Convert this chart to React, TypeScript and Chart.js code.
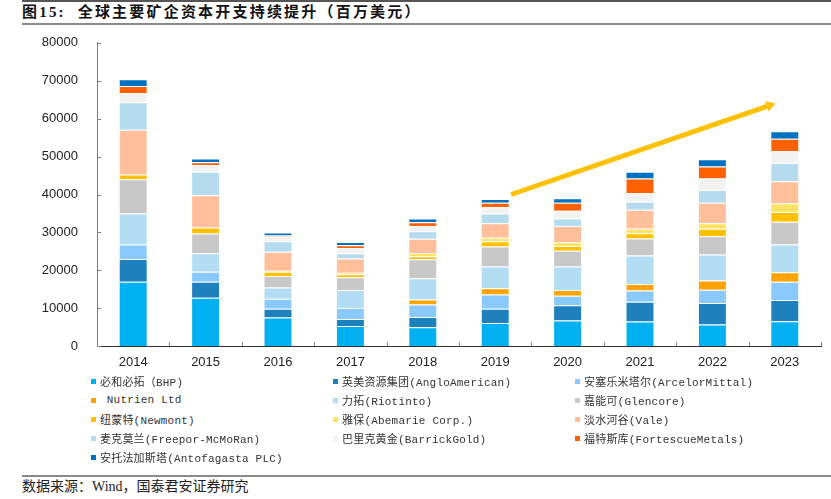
import React, { useEffect, useRef } from "react";
import { Chart, registerables } from "chart.js";

Chart.register(...registerables);

const years = ["2014", "2015", "2016", "2017", "2018", "2019", "2020", "2021", "2022", "2023"];

const seriesNames = [
  "必和必拓（BHP)",
  "英美资源集团(AngloAmerican)",
  "安塞乐米塔尔(ArcelorMittal)",
  " Nutrien Ltd",
  "力拓(Riotinto)",
  "嘉能可(Glencore)",
  "纽蒙特(Newmont)",
  "雅保(Abemarie Corp.)",
  "淡水河谷(Vale)",
  "麦克莫兰(Freepor-McMoRan)",
  "巴里克黄金(BarrickGold)",
  "福特斯库(FortescueMetals)",
  "安托法加斯塔(Antofagasta PLC)",
];

const bhp = [17000, 12800, 7600, 5300, 5000, 6100, 6800, 6500, 5700, 6600];
const anglo = [6000, 4200, 2300, 1900, 2700, 3800, 4000, 5200, 5700, 5600];
const arcelor = [3800, 2600, 2600, 2900, 3300, 3700, 2500, 3000, 3500, 4800];
const nutrien = [0, 0, 0, 0, 1300, 1700, 1500, 1700, 2400, 2500];
const riotinto = [8200, 4900, 3000, 4700, 5600, 5700, 6200, 7500, 6900, 7300];
const glencore = [9000, 5200, 3000, 3400, 5000, 5300, 4200, 4500, 4800, 6000];
const newmont = [1300, 1600, 1100, 800, 800, 1400, 1200, 1400, 2000, 2600];
const albemarle = [0, 0, 300, 400, 900, 900, 1000, 1200, 1400, 2300];
const vale = [11800, 8500, 5000, 3700, 3700, 3800, 4300, 5000, 5400, 5800];
const freeport = [7200, 6200, 2800, 1400, 2000, 2600, 2000, 2100, 3400, 4800];
const barrick = [2400, 1800, 1200, 1300, 1400, 1700, 2000, 2300, 3000, 3200];
const fortescue = [1900, 700, 300, 800, 1000, 1100, 2100, 3800, 3200, 3200];
const antofagasta = [1800, 1000, 800, 900, 1000, 1000, 1200, 1800, 1900, 2000];

const seriesValues = [
  bhp, anglo, arcelor, nutrien, riotinto, glencore, newmont,
  albemarle, vale, freeport, barrick, fortescue, antofagasta,
];

const seriesColors = [
  "#00B0F0", "#1F80BE", "#89C9FE", "#FFA300", "#B3DDF2", "#C8C8C8", "#FFC000",
  "#FFE264", "#FFBF9B", "#B5DBEF", "#F2F2F2", "#FF6100", "#0070C0",
];

const yTicks = [0, 10000, 20000, 30000, 40000, 50000, 60000, 70000, 80000];

// trend arrow in data coordinates: [category index, value]
const arrowStart = [5.22, 40000];
const arrowEnd = [8.87, 64000];

const decorPlugin = {
  id: "decor",
  afterDatasetsDraw(chart: any) {
    const { ctx, chartArea, scales } = chart;
    const xs = scales.x;
    const ys = scales.y;
    ctx.save();
    ctx.strokeStyle = "#808080";
    ctx.lineWidth = 1;
    ctx.beginPath();
    yTicks.forEach((v) => {
      const y = Math.round(ys.getPixelForValue(v)) + 0.5;
      ctx.moveTo(chartArea.left, y);
      ctx.lineTo(chartArea.left + 4, y);
    });
    for (let i = 0; i < years.length; i++) {
      const x = Math.round(xs.getPixelForValue(i + 0.5)) + 0.5;
      ctx.moveTo(x, chartArea.bottom);
      ctx.lineTo(x, chartArea.bottom - 4);
    }
    ctx.stroke();

    const x1 = xs.getPixelForValue(arrowStart[0]);
    const y1 = ys.getPixelForValue(arrowStart[1]);
    const x2 = xs.getPixelForValue(arrowEnd[0]);
    const y2 = ys.getPixelForValue(arrowEnd[1]);
    const ang = Math.atan2(y2 - y1, x2 - x1);
    const headLen = 9;
    const headW = 5.5;
    const bx = x2 - headLen * Math.cos(ang);
    const by = y2 - headLen * Math.sin(ang);
    ctx.strokeStyle = "#FFC000";
    ctx.fillStyle = "#FFC000";
    ctx.lineWidth = 5;
    ctx.lineCap = "butt";
    ctx.beginPath();
    ctx.moveTo(x1, y1);
    ctx.lineTo(bx, by);
    ctx.stroke();
    ctx.beginPath();
    ctx.moveTo(x2, y2);
    ctx.lineTo(bx + headW * Math.sin(ang), by - headW * Math.cos(ang));
    ctx.lineTo(bx - headW * Math.sin(ang), by + headW * Math.cos(ang));
    ctx.closePath();
    ctx.fill();
    ctx.restore();
  },
};

export default function App() {
  const canvasRef = useRef<HTMLCanvasElement | null>(null);

  useEffect(() => {
    if (!canvasRef.current) return;
    const chart = new Chart(canvasRef.current, {
      type: "bar",
      data: {
        labels: years,
        datasets: seriesNames.map((name, i) => ({
          label: name,
          data: seriesValues[i],
          backgroundColor: seriesColors[i],
          borderColor: "rgba(255,255,255,0.55)",
          borderWidth: 1,
          barPercentage: 0.4,
          categoryPercentage: 1,
        })),
      },
      options: {
        animation: false,
        responsive: true,
        maintainAspectRatio: false,
        layout: { padding: { left: 0, right: 10, top: 12, bottom: 0 } },
        plugins: {
          legend: { display: false },
          tooltip: { enabled: false },
          title: { display: false },
        },
        scales: {
          x: {
            stacked: true,
            grid: { display: false, drawTicks: false },
            border: { display: true, color: "#303030", width: 1 },
            ticks: {
              color: "#222",
              font: { family: "Liberation Sans", size: 13 },
              padding: 8,
              maxRotation: 0,
            },
            afterFit(scale: any) {
              scale.height = 25;
            },
          },
          y: {
            stacked: true,
            min: 0,
            max: 80000,
            afterBuildTicks(scale: any) {
              scale.ticks = yTicks.map((v) => ({ value: v }));
            },
            grid: { display: false, drawTicks: false },
            border: { display: true, color: "#808080", width: 1 },
            ticks: {
              color: "#222",
              font: { family: "Liberation Sans", size: 13 },
              padding: 19,
              callback: (v: any) => String(v),
            },
            afterFit(scale: any) {
              scale.width = 97;
            },
          },
        },
      },
      plugins: [decorPlugin],
    });
    return () => chart.destroy();
  }, []);

  return (
    <div
      style={{
        position: "fixed",
        left: 0,
        top: 0,
        width: 831,
        height: 499,
        background: "#fff",
        overflow: "hidden",
      }}
    >
      <div style={{ position: "absolute", left: 22, right: 0, top: 0, height: 2, background: "#555" }} />
      <div
        style={{
          position: "absolute",
          left: 22,
          top: 3,
          fontFamily: "'Liberation Serif', 'Noto Sans CJK SC'",
          fontWeight: 700,
          fontSize: 15,
          letterSpacing: 2.2,
          lineHeight: "19px",
          color: "#111",
          whiteSpace: "nowrap",
        }}
      >
        图15:&nbsp;&nbsp;全球主要矿企资本开支持续提升（百万美元）
      </div>
      <div style={{ position: "absolute", left: 22, right: 0, top: 23, height: 2, background: "#8a8a8a" }} />

      <div style={{ position: "absolute", left: 0, top: 16, width: 831, height: 357 }}>
        <canvas ref={canvasRef} />
      </div>

      {seriesNames.map((name, i) => {
        const col = i % 3;
        const row = Math.floor(i / 3);
        return (
          <div
            key={name}
            style={{
              position: "absolute",
              left: 91 + col * 242,
              top: 371.5 + row * 19,
              height: 19,
              display: "flex",
              alignItems: "center",
              whiteSpace: "pre",
              fontFamily: "'Liberation Mono', 'Noto Sans CJK SC'",
              fontSize: 11,
              letterSpacing: 0.2,
              color: "#333",
            }}
          >
            <span
              style={{
                display: "inline-block",
                width: 5,
                height: 5,
                background: seriesColors[i],
                marginRight: 4,
              }}
            />
            {name}
          </div>
        );
      })}

      <div style={{ position: "absolute", left: 22, right: 0, top: 475, height: 2, background: "#8a8a8a" }} />
      <div
        style={{
          position: "absolute",
          left: 22,
          top: 478,
          fontFamily: "'Liberation Serif', 'Noto Sans CJK SC'",
          fontSize: 14,
          lineHeight: "18px",
          color: "#222",
          whiteSpace: "nowrap",
        }}
      >
        数据来源：Wind，国泰君安证券研究
      </div>
    </div>
  );
}
